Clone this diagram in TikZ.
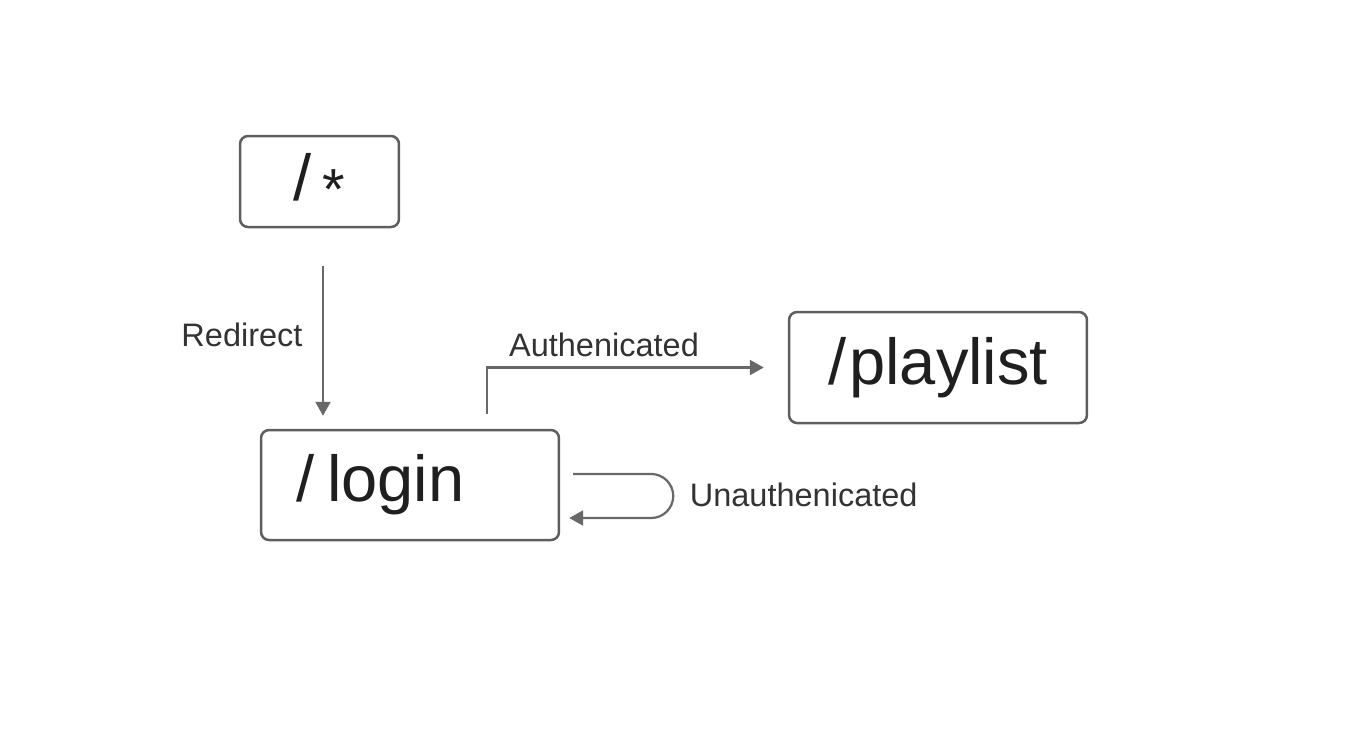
\documentclass[tikz,border=0pt]{standalone}
\usepackage{fontspec}
\setmainfont{Liberation Sans}
\usetikzlibrary{calc,positioning,arrows.meta}
\definecolor{boxgray}{HTML}{5E5E5E}
\definecolor{linkgray}{HTML}{686868}
\tikzset{
  route/.style={
    shape = rectangle,
    draw = boxgray,
    line width = 0.05cm,
    rounded corners = 0.16cm,
    minimum width = 5.96cm,
    minimum height = 2.2cm,
    inner sep = 0pt,
    font = \fontsize{37}{40}\selectfont,
    text = black!88
  },
  link/.style={
    draw = linkgray,
    line width = 0.045cm,
    -{Triangle[length=0.28cm,width=0.3cm]}
  },
  edgelbl/.style={
    font = \fontsize{18.5}{20}\selectfont,
    text = black!80,
    inner sep = 2pt
  }
}

\begin{document}
\begin{tikzpicture}[x=0.02cm,y=-0.02cm]
  \useasboundingbox (0,0) rectangle (1348,728);

  % the three routes
  \node[route, minimum width=3.18cm, minimum height=1.82cm] (star) at (319.5,181.5) {/\,\raisebox{-0.15em}{\fontsize{33}{36}\selectfont *}};
  \node[route, text width=4.56cm, align=left] (login) at (410,485) {/\hspace{0.2em}login};
  \node[route, minimum height=2.22cm] (playlist) at (938,367.5) {/\hspace{0.05em}playlist};

  % redirect
  \draw[link, shorten <=0.76cm, shorten >=0.26cm] ([xshift=0.07cm]star.south) -- ([xshift=0.07cm]star.south |- login.north);
  \node[edgelbl] (redir) at (242,335) {Redirect};

  % authenticated
  \coordinate (authstart) at ($(login.north)+(77,-15)$);
  \draw[link, shorten >=0.48cm] (authstart) |- (playlist.west);
  \node[edgelbl] (auth) at (604,345) {Authenicated};

  % unauthenticated loop
  \coordinate (loopin) at ($(login.east)+(13,-11)$);
  \coordinate (loopout) at ($(login.east)+(9,33)$);
  \draw[link] (loopin) -- ++(78,0) arc[start angle=90, end angle=-90, radius=0.44cm] -- (loopout);
  \node[edgelbl, anchor=west] (unauth) at (686,495) {Unauthenicated};
\end{tikzpicture}
\end{document}
